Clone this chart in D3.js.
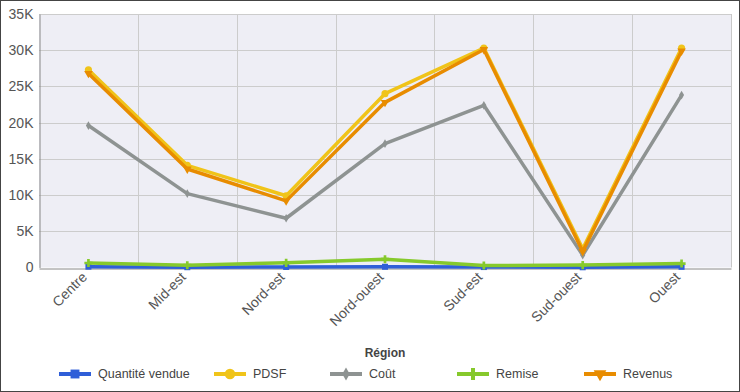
<!DOCTYPE html>
<html lang="fr">
<head>
<meta charset="UTF-8">
<title>Région</title>
<script src="https://cdnjs.cloudflare.com/ajax/libs/d3/7.9.0/d3.min.js"></script>
<style>
    body { margin: 0; background: #fff; font-family: 'Liberation Sans', Arial, sans-serif; }
    #chart { width: 738px; height: 390px; border: 1px solid #444; }
</style>
</head>
<body>
<div id="chart"></div>
<script>
    // Data
    const regions = ['Centre', 'Mid-est', 'Nord-est', 'Nord-ouest', 'Sud-est', 'Sud-ouest', 'Ouest']
    const quantite = [110, 40, 70, 100, 60, 30, 90]
    const pdsf = [27300, 14100, 9900, 24000, 30300, 2600, 30300]
    const cout = [19600, 10200, 6800, 17100, 22400, 1700, 23800]
    const remise = [620, 320, 640, 1150, 280, 330, 540]
    const revenus = [26800, 13600, 9200, 22800, 30100, 2200, 29900]
    const yTicks = [0, 5000, 10000, 15000, 20000, 25000, 30000, 35000]

    const series = [
        { name: 'Quantité vendue', values: quantite, color: '#2f5fd8', symbol: d3.symbolSquare, size: 36 },
        { name: 'PDSF', values: pdsf, color: '#f0c419', symbol: d3.symbolCircle, size: 40 },
        { name: 'Coût', values: cout, color: '#8e9392', symbol: d3.symbolDiamond, size: 22 },
        { name: 'Remise', values: remise, color: '#86c92c', symbol: d3.symbolCross, size: 36 },
        { name: 'Revenus', values: revenus, color: '#e88c00', symbol: d3.symbolTriangle, size: 32, rot: 180 }
    ]

    const W = 738, H = 390
    const plot = { left: 38, right: 730, top: 13, bottom: 266.5 }
    const font = "'Liberation Sans', Arial, sans-serif"

    const svg = d3.select('#chart').append('svg')
        .attr('width', W).attr('height', H)

    const x = d3.scaleBand().domain(regions).range([plot.left, plot.right])
    const cx = d => x(d) + x.bandwidth() / 2
    const y = d3.scaleLinear().domain([0, 35000]).range([plot.bottom, plot.top])

    // plot background
    svg.append('rect')
        .attr('x', plot.left).attr('y', plot.top)
        .attr('width', plot.right - plot.left).attr('height', plot.bottom - plot.top)
        .attr('fill', '#eeeef5')

    // grid
    svg.append('g').selectAll('line').data(yTicks.slice(1)).enter().append('line')
        .attr('x1', plot.left).attr('x2', plot.right)
        .attr('y1', d => Math.round(y(d)) + 0.5).attr('y2', d => Math.round(y(d)) + 0.5)
        .attr('stroke', '#cccccc')
    svg.append('g').selectAll('line').data(regions.slice(1)).enter().append('line')
        .attr('x1', d => Math.round(x(d)) + 0.5).attr('x2', d => Math.round(x(d)) + 0.5)
        .attr('y1', plot.top).attr('y2', plot.bottom)
        .attr('stroke', '#cccccc')
    svg.append('line')
        .attr('x1', plot.right + 0.5).attr('x2', plot.right + 0.5)
        .attr('y1', plot.top).attr('y2', plot.bottom)
        .attr('stroke', '#c8c8c8')

    // axes
    const yAxis = svg.append('g')
        .attr('transform', `translate(${plot.left + 0.5},0)`)
        .call(d3.axisLeft(y).tickValues(yTicks).tickSize(0).tickPadding(6)
            .tickFormat(d => d === 0 ? '0' : (d / 1000) + 'K'))
    yAxis.select('.domain').attr('stroke', '#888')
    yAxis.selectAll('text').attr('font-size', 14).attr('fill', '#555')
        .attr('font-family', font)

    const xAxis = svg.append('g')
        .attr('transform', `translate(0,${Math.round(plot.bottom) + 0.5})`)
        .call(d3.axisBottom(x).tickSize(0).tickPadding(0))
    xAxis.select('.domain').attr('stroke', '#888')
    xAxis.selectAll('text')
        .attr('font-size', 14).attr('fill', '#555')
        .attr('font-family', font)
        .attr('text-anchor', 'end')
        .attr('dy', '0.35em')
        .attr('transform', 'translate(-4,6) rotate(-45)')

    // lines
    const line = d3.line().x((d, i) => cx(regions[i])).y(d => y(d))
    series.forEach(s => {
        const g = svg.append('g')
        g.append('path').datum(s.values)
            .attr('d', line)
            .attr('fill', 'none')
            .attr('stroke', s.color)
            .attr('stroke-width', 3.5)
            .attr('stroke-linejoin', 'round')
        g.selectAll('path.m').data(s.values).enter().append('path')
            .attr('class', 'm')
            .attr('d', d3.symbol().type(s.symbol).size(s.size))
            .attr('transform', (d, i) => `translate(${cx(regions[i])},${y(d)}) rotate(${s.rot || 0})`)
            .attr('fill', s.color)
    })

    // axis title
    svg.append('text')
        .attr('x', (plot.left + plot.right) / 2).attr('y', 356)
        .attr('text-anchor', 'middle')
        .attr('font-size', 12).attr('font-weight', 'bold').attr('fill', '#444')
        .attr('font-family', font)
        .text('Région')

    // legend
    const legendX = [58, 213, 329, 456, 583]
    const legend = svg.append('g').selectAll('g').data(series).enter().append('g')
        .attr('transform', (d, i) => `translate(${legendX[i]},373)`)
    legend.append('line')
        .attr('x1', 0).attr('x2', 32).attr('y1', 0).attr('y2', 0)
        .attr('stroke', d => d.color).attr('stroke-width', 4)
    legend.append('path')
        .attr('d', d => d3.symbol().type(d.symbol).size(d.size * 2.2)())
        .attr('transform', d => `translate(16,0) rotate(${d.rot || 0})`)
        .attr('fill', d => d.color)
    legend.append('text')
        .attr('x', 39).attr('y', 0).attr('dy', '0.35em')
        .attr('font-size', 12.5).attr('fill', '#444')
        .attr('font-family', font)
        .text(d => d.name)
</script>
</body>
</html>
